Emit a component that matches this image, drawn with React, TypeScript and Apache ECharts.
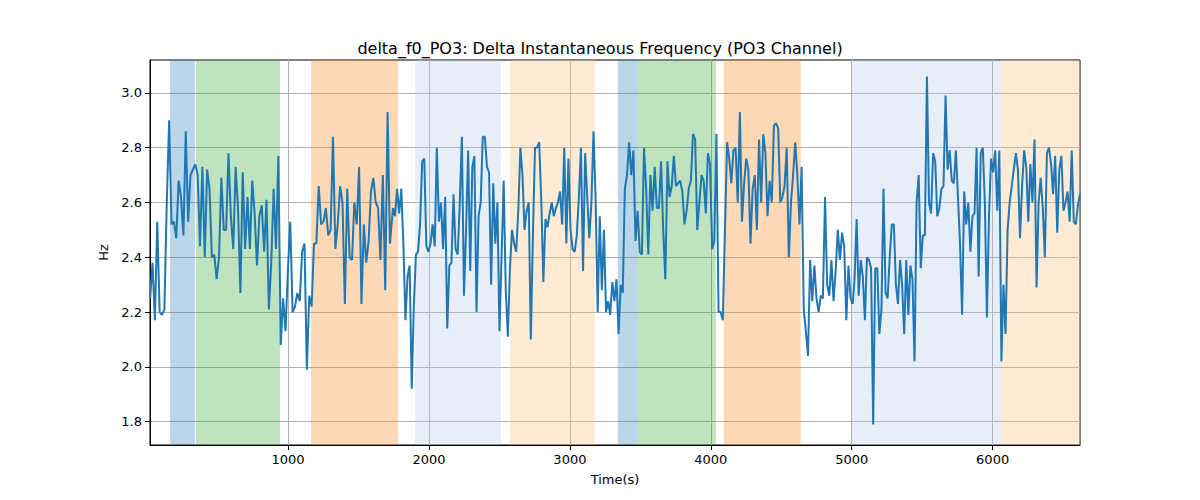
import { useEffect, useRef } from "react"
import * as echarts from "echarts"

// four stretches of the signal: [start, end] time and values
const seg1Range = [21, 1723]
const seg1 = [2.25, 2.38, 2.17, 2.53, 2.2, 2.19, 2.21, 2.6, 2.9, 2.52, 2.53, 2.47, 2.68, 2.62, 2.48, 2.86, 2.53, 2.7, 2.72, 2.74, 2.7, 2.44, 2.73, 2.4, 2.72, 2.65, 2.4, 2.41, 2.32, 2.4, 2.69, 2.5, 2.5, 2.78, 2.55, 2.43, 2.73, 2.58, 2.27, 2.71, 2.43, 2.62, 2.43, 2.68, 2.56, 2.37, 2.55, 2.59, 2.42, 2.61, 2.21, 2.38, 2.65, 2.43, 2.77, 2.08, 2.25, 2.13, 2.35, 2.53, 2.2, 2.22, 2.27, 2.24, 2.42, 2.45, 1.99, 2.26, 2.22, 2.45, 2.45, 2.66, 2.52, 2.53, 2.58, 2.48, 2.5, 2.84, 2.43, 2.52, 2.66, 2.6, 2.23, 2.65, 2.4, 2.39, 2.6, 2.52, 2.73, 2.23, 2.52, 2.38, 2.46, 2.64, 2.69, 2.6, 2.58, 2.39, 2.7, 2.28, 2.93, 2.45]
const seg2Range = [1744, 3375]
const seg2 = [2.58, 2.55, 2.65, 2.56, 2.65, 2.45, 2.17, 2.33, 2.37, 1.92, 2.22, 2.41, 2.42, 2.52, 2.75, 2.76, 2.44, 2.42, 2.45, 2.52, 2.44, 2.8, 2.53, 2.6, 2.43, 2.62, 2.14, 2.37, 2.38, 2.63, 2.43, 2.41, 2.6, 2.84, 2.26, 2.5, 2.79, 2.35, 2.73, 2.77, 2.2, 2.55, 2.6, 2.84, 2.84, 2.73, 2.71, 2.3, 2.67, 2.45, 2.6, 2.13, 2.4, 2.68, 2.28, 2.11, 2.36, 2.5, 2.45, 2.42, 2.57, 2.8, 2.7, 2.5, 2.57, 2.6, 2.1, 2.48, 2.8, 2.8, 2.82, 2.61, 2.31, 2.54, 2.51, 2.56, 2.6, 2.55, 2.58, 2.6, 2.64, 2.52, 2.8, 2.45, 2.76, 2.5, 2.43, 2.42, 2.48, 2.62, 2.8, 2.35, 2.78, 2.62, 2.47, 2.6, 2.86, 2.62, 2.2, 2.55, 2.28, 2.5, 2.2, 2.24, 2.19, 2.31, 2.24, 2.32, 2.12, 2.3, 2.27]
const seg3Range = [3390, 5007]
const seg3 = [2.65, 2.7, 2.82, 2.7, 2.79, 2.46, 2.57, 2.42, 2.41, 2.8, 2.65, 2.41, 2.7, 2.57, 2.73, 2.58, 2.58, 2.75, 2.5, 2.32, 2.75, 2.62, 2.66, 2.77, 2.66, 2.67, 2.68, 2.64, 2.52, 2.57, 2.65, 2.68, 2.85, 2.83, 2.5, 2.6, 2.7, 2.68, 2.56, 2.78, 2.74, 2.43, 2.46, 2.85, 2.2, 2.2, 2.17, 2.5, 2.82, 2.76, 2.67, 2.79, 2.8, 2.6, 2.93, 2.53, 2.67, 2.76, 2.72, 2.45, 2.65, 2.7, 2.5, 2.83, 2.6, 2.85, 2.78, 2.55, 2.68, 2.6, 2.88, 2.89, 2.87, 2.6, 2.62, 2.66, 2.8, 2.4, 2.6, 2.7, 2.82, 2.7, 2.52, 2.73, 2.21, 2.13, 2.04, 2.39, 2.24, 2.37, 2.25, 2.2, 2.26, 2.25, 2.62, 2.3, 2.26, 2.39, 2.24, 2.35, 2.5, 2.39, 2.49, 2.44, 2.17, 2.37, 2.25, 2.23]
const seg4Range = [5020, 6620]
const seg4 = [2.32, 2.54, 2.26, 2.39, 2.33, 2.17, 2.4, 2.39, 2.36, 1.79, 2.36, 2.36, 2.12, 2.21, 2.65, 2.27, 2.25, 2.4, 2.52, 2.52, 2.3, 2.23, 2.39, 2.3, 2.12, 2.39, 2.19, 2.37, 2.32, 2.02, 2.6, 2.7, 2.36, 2.48, 2.48, 3.06, 2.6, 2.56, 2.78, 2.75, 2.55, 2.58, 2.65, 2.66, 2.99, 2.72, 2.79, 2.68, 2.67, 2.79, 2.62, 2.45, 2.19, 2.64, 2.52, 2.6, 2.42, 2.55, 2.56, 2.8, 2.33, 2.78, 2.8, 2.6, 2.18, 2.55, 2.76, 2.71, 2.79, 2.57, 2.79, 2.02, 2.3, 2.12, 2.5, 2.6, 2.66, 2.72, 2.78, 2.72, 2.47, 2.66, 2.79, 2.73, 2.53, 2.74, 2.6, 2.83, 2.29, 2.6, 2.69, 2.58, 2.4, 2.78, 2.8, 2.74, 2.63, 2.77, 2.49, 2.72, 2.77, 2.57, 2.6, 2.64, 2.53, 2.79, 2.53, 2.52, 2.59, 2.63]

// shaded phases: [from, to, colour, opacity]
const bands: [number, number, string, number][] = [
  [163, 340, "#1f77b4", 0.3],
  [347, 943, "#2ca02c", 0.3],
  [1163, 1780, "#ff7f0e", 0.3],
  [1900, 2510, "#aec7e8", 0.3],
  [2574, 3177, "#ffbb78", 0.3],
  [3340, 3482, "#1f77b4", 0.3],
  [3482, 4035, "#2ca02c", 0.3],
  [4092, 4638, "#ff7f0e", 0.3],
  [5000, 6064, "#aec7e8", 0.3],
  [6064, 6620, "#ffbb78", 0.3],
]

const xTicks = [1000, 2000, 3000, 4000, 5000, 6000]
const yTicks = [1.8, 2.0, 2.2, 2.4, 2.6, 2.8, 3.0]

function toPoints(range: number[], vals: number[]) {
  const step = (range[1] - range[0]) / (vals.length - 1)
  return vals.map((v, i) => [range[0] + i * step, v])
}

export default function App() {
  const chartRef = useRef<HTMLDivElement>(null)

  useEffect(() => {
    if (!chartRef.current) return
    const chart = echarts.init(chartRef.current, null, { renderer: "svg" })

    const points = [
      ...toPoints(seg1Range, seg1),
      ...toPoints(seg2Range, seg2),
      ...toPoints(seg3Range, seg3),
      ...toPoints(seg4Range, seg4),
    ]
    const font = "DejaVu Sans"

    chart.setOption({
      animation: false,
      textStyle: { fontFamily: font },
      title: {
        text: "delta_f0_PO3: Delta Instantaneous Frequency (PO3 Channel)",
        left: "center",
        top: 35,
        textStyle: { fontFamily: font, fontSize: 16, fontWeight: "normal", color: "#000" },
      },
      grid: { left: 150, right: 120, top: 60, bottom: 55, show: true, borderColor: "#000", borderWidth: 1 },
      xAxis: {
        type: "value",
        min: 20,
        max: 6620,
        name: "Time(s)",
        nameLocation: "middle",
        nameGap: 28,
        nameTextStyle: { fontSize: 13, color: "#000" },
        axisLine: { lineStyle: { color: "#000" } },
        axisTick: { customValues: xTicks, length: 5, lineStyle: { color: "#000" } },
        axisLabel: { customValues: xTicks, fontSize: 13, color: "#000", formatter: (v: number) => String(v) },
        splitLine: { show: true, lineStyle: { color: "#b0b0b0", width: 1 } },
      },
      yAxis: {
        type: "value",
        min: 1.715,
        max: 3.12,
        name: "Hz",
        nameLocation: "middle",
        nameGap: 38,
        nameTextStyle: { fontSize: 13, color: "#000" },
        axisLine: { show: true, lineStyle: { color: "#000" } },
        axisTick: { show: true, customValues: yTicks, length: 5, lineStyle: { color: "#000" } },
        axisLabel: { customValues: yTicks, fontSize: 13, color: "#000", formatter: (v: number) => v.toFixed(1) },
        splitLine: { show: true, lineStyle: { color: "#b0b0b0", width: 1 } },
      },
      series: [
        {
          type: "line",
          data: points,
          showSymbol: false,
          lineStyle: { color: "#1f77b4", width: 2 },
          z: 3,
          markArea: {
            silent: true,
            data: bands.map(([a, b, c, o]) => [
              { xAxis: a, itemStyle: { color: c, opacity: o } },
              { xAxis: b },
            ]),
          },
        },
      ],
    })

    return () => chart.dispose()
  }, [])

  return <div ref={chartRef} style={{ width: 1200, height: 500, margin: -8 }} />
}
